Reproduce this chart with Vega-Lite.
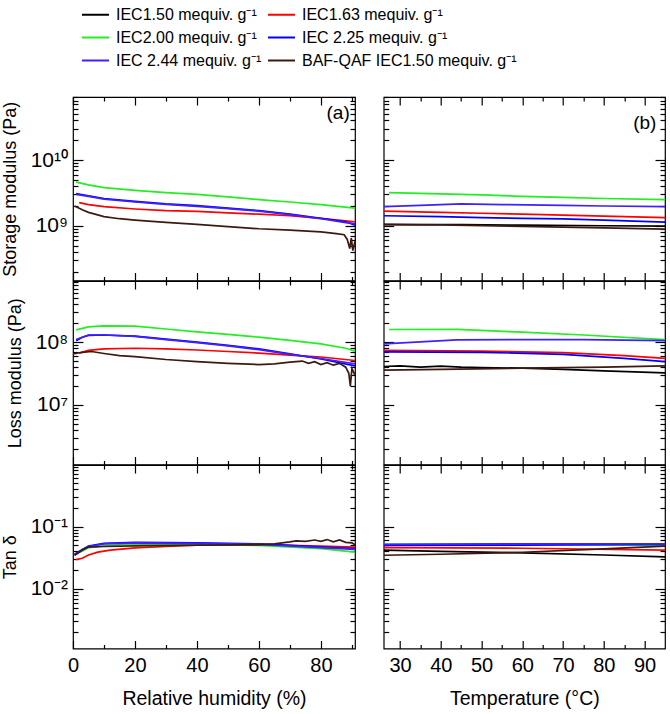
{
  "$schema": "https://vega.github.io/schema/vega-lite/v6.json",
  "padding": {"left": 0, "top": 0, "right": 2, "bottom": 2},
  "config": {
    "view": {"stroke": "black", "strokeWidth": 1.2},
    "font": "Liberation Sans",
    "axis": {"grid": false, "domain": false, "ticks": false, "gridColor": "black", "gridWidth": 1.2, "gridOpacity": 1, "labelColor": "black", "titleColor": "black", "labelFont": "Liberation Sans", "titleFont": "Liberation Sans", "titleFontWeight": "normal", "labelOverlap": false, "labelFlush": false}
  },
  "datasets": {
    "sRH": [
      {"sample": "IEC1.63 mequiv. g⁻¹", "x": 2, "value": 2.25e9}, {"sample": "IEC1.63 mequiv. g⁻¹", "x": 5, "value": 2.1e9}, {"sample": "IEC1.63 mequiv. g⁻¹", "x": 10, "value": 1.95e9}, {"sample": "IEC1.63 mequiv. g⁻¹", "x": 20, "value": 1.8e9}, {"sample": "IEC1.63 mequiv. g⁻¹", "x": 30, "value": 1.7e9}, {"sample": "IEC1.63 mequiv. g⁻¹", "x": 40, "value": 1.65e9}, {"sample": "IEC1.63 mequiv. g⁻¹", "x": 50, "value": 1.57e9}, {"sample": "IEC1.63 mequiv. g⁻¹", "x": 60, "value": 1.5e9}, {"sample": "IEC1.63 mequiv. g⁻¹", "x": 70, "value": 1.42e9}, {"sample": "IEC1.63 mequiv. g⁻¹", "x": 80, "value": 1.3e9}, {"sample": "IEC1.63 mequiv. g⁻¹", "x": 91, "value": 1.15e9},
      {"sample": "IEC2.00 mequiv. g⁻¹", "x": 1, "value": 4.6e9}, {"sample": "IEC2.00 mequiv. g⁻¹", "x": 5, "value": 4.2e9}, {"sample": "IEC2.00 mequiv. g⁻¹", "x": 10, "value": 3.8e9}, {"sample": "IEC2.00 mequiv. g⁻¹", "x": 20, "value": 3.45e9}, {"sample": "IEC2.00 mequiv. g⁻¹", "x": 30, "value": 3.2e9}, {"sample": "IEC2.00 mequiv. g⁻¹", "x": 40, "value": 3.0e9}, {"sample": "IEC2.00 mequiv. g⁻¹", "x": 50, "value": 2.75e9}, {"sample": "IEC2.00 mequiv. g⁻¹", "x": 60, "value": 2.5e9}, {"sample": "IEC2.00 mequiv. g⁻¹", "x": 70, "value": 2.3e9}, {"sample": "IEC2.00 mequiv. g⁻¹", "x": 80, "value": 2.1e9}, {"sample": "IEC2.00 mequiv. g⁻¹", "x": 91, "value": 1.85e9},
      {"sample": "IEC 2.25 mequiv. g⁻¹", "x": 1, "value": 3.1e9}, {"sample": "IEC 2.25 mequiv. g⁻¹", "x": 5, "value": 2.85e9}, {"sample": "IEC 2.25 mequiv. g⁻¹", "x": 10, "value": 2.6e9}, {"sample": "IEC 2.25 mequiv. g⁻¹", "x": 20, "value": 2.35e9}, {"sample": "IEC 2.25 mequiv. g⁻¹", "x": 30, "value": 2.15e9}, {"sample": "IEC 2.25 mequiv. g⁻¹", "x": 40, "value": 2.02e9}, {"sample": "IEC 2.25 mequiv. g⁻¹", "x": 50, "value": 1.85e9}, {"sample": "IEC 2.25 mequiv. g⁻¹", "x": 60, "value": 1.7e9}, {"sample": "IEC 2.25 mequiv. g⁻¹", "x": 70, "value": 1.5e9}, {"sample": "IEC 2.25 mequiv. g⁻¹", "x": 80, "value": 1.3e9}, {"sample": "IEC 2.25 mequiv. g⁻¹", "x": 88, "value": 1.15e9}, {"sample": "IEC 2.25 mequiv. g⁻¹", "x": 91, "value": 1.02e9},
      {"sample": "IEC 2.44 mequiv. g⁻¹", "x": 1, "value": 3.0e9}, {"sample": "IEC 2.44 mequiv. g⁻¹", "x": 5, "value": 2.8e9}, {"sample": "IEC 2.44 mequiv. g⁻¹", "x": 10, "value": 2.55e9}, {"sample": "IEC 2.44 mequiv. g⁻¹", "x": 20, "value": 2.3e9}, {"sample": "IEC 2.44 mequiv. g⁻¹", "x": 30, "value": 2.12e9}, {"sample": "IEC 2.44 mequiv. g⁻¹", "x": 40, "value": 1.97e9}, {"sample": "IEC 2.44 mequiv. g⁻¹", "x": 50, "value": 1.82e9}, {"sample": "IEC 2.44 mequiv. g⁻¹", "x": 60, "value": 1.67e9}, {"sample": "IEC 2.44 mequiv. g⁻¹", "x": 70, "value": 1.48e9}, {"sample": "IEC 2.44 mequiv. g⁻¹", "x": 80, "value": 1.28e9}, {"sample": "IEC 2.44 mequiv. g⁻¹", "x": 88, "value": 1.12e9}, {"sample": "IEC 2.44 mequiv. g⁻¹", "x": 91, "value": 1.08e9},
      {"sample": "BAF-QAF IEC1.50 mequiv. g⁻¹", "x": 0.5, "value": 2.0e9}, {"sample": "BAF-QAF IEC1.50 mequiv. g⁻¹", "x": 3, "value": 1.75e9}, {"sample": "BAF-QAF IEC1.50 mequiv. g⁻¹", "x": 5, "value": 1.6e9}, {"sample": "BAF-QAF IEC1.50 mequiv. g⁻¹", "x": 10, "value": 1.38e9}, {"sample": "BAF-QAF IEC1.50 mequiv. g⁻¹", "x": 15, "value": 1.28e9}, {"sample": "BAF-QAF IEC1.50 mequiv. g⁻¹", "x": 20, "value": 1.22e9}, {"sample": "BAF-QAF IEC1.50 mequiv. g⁻¹", "x": 30, "value": 1.13e9}, {"sample": "BAF-QAF IEC1.50 mequiv. g⁻¹", "x": 40, "value": 1.05e9}, {"sample": "BAF-QAF IEC1.50 mequiv. g⁻¹", "x": 50, "value": 0.97e9}, {"sample": "BAF-QAF IEC1.50 mequiv. g⁻¹", "x": 60, "value": 0.9e9}, {"sample": "BAF-QAF IEC1.50 mequiv. g⁻¹", "x": 70, "value": 0.86e9}, {"sample": "BAF-QAF IEC1.50 mequiv. g⁻¹", "x": 80, "value": 0.81e9}, {"sample": "BAF-QAF IEC1.50 mequiv. g⁻¹", "x": 85, "value": 0.76e9}, {"sample": "BAF-QAF IEC1.50 mequiv. g⁻¹", "x": 87.5, "value": 0.73e9}, {"sample": "BAF-QAF IEC1.50 mequiv. g⁻¹", "x": 88.5, "value": 0.62e9}, {"sample": "BAF-QAF IEC1.50 mequiv. g⁻¹", "x": 89.3, "value": 0.45e9}, {"sample": "BAF-QAF IEC1.50 mequiv. g⁻¹", "x": 89.8, "value": 0.65e9}, {"sample": "BAF-QAF IEC1.50 mequiv. g⁻¹", "x": 90.3, "value": 0.42e9}, {"sample": "BAF-QAF IEC1.50 mequiv. g⁻¹", "x": 91, "value": 0.58e9}
    ],
    "sT": [
      {"sample": "IEC1.50 mequiv. g⁻¹", "x": 26, "value": 1.05e9}, {"sample": "IEC1.50 mequiv. g⁻¹", "x": 35, "value": 1.04e9}, {"sample": "IEC1.50 mequiv. g⁻¹", "x": 45, "value": 1.045e9}, {"sample": "IEC1.50 mequiv. g⁻¹", "x": 60, "value": 1.02e9}, {"sample": "IEC1.50 mequiv. g⁻¹", "x": 80, "value": 1.0e9}, {"sample": "IEC1.50 mequiv. g⁻¹", "x": 95, "value": 0.99e9},
      {"sample": "IEC1.63 mequiv. g⁻¹", "x": 26, "value": 1.67e9}, {"sample": "IEC1.63 mequiv. g⁻¹", "x": 40, "value": 1.6e9}, {"sample": "IEC1.63 mequiv. g⁻¹", "x": 50, "value": 1.55e9}, {"sample": "IEC1.63 mequiv. g⁻¹", "x": 60, "value": 1.5e9}, {"sample": "IEC1.63 mequiv. g⁻¹", "x": 70, "value": 1.45e9}, {"sample": "IEC1.63 mequiv. g⁻¹", "x": 80, "value": 1.4e9}, {"sample": "IEC1.63 mequiv. g⁻¹", "x": 95, "value": 1.33e9},
      {"sample": "IEC2.00 mequiv. g⁻¹", "x": 27.3, "value": 3.2e9}, {"sample": "IEC2.00 mequiv. g⁻¹", "x": 40, "value": 3.05e9}, {"sample": "IEC2.00 mequiv. g⁻¹", "x": 50, "value": 2.95e9}, {"sample": "IEC2.00 mequiv. g⁻¹", "x": 60, "value": 2.8e9}, {"sample": "IEC2.00 mequiv. g⁻¹", "x": 70, "value": 2.7e9}, {"sample": "IEC2.00 mequiv. g⁻¹", "x": 80, "value": 2.6e9}, {"sample": "IEC2.00 mequiv. g⁻¹", "x": 95, "value": 2.5e9},
      {"sample": "IEC 2.25 mequiv. g⁻¹", "x": 26, "value": 1.42e9}, {"sample": "IEC 2.25 mequiv. g⁻¹", "x": 40, "value": 1.38e9}, {"sample": "IEC 2.25 mequiv. g⁻¹", "x": 50, "value": 1.33e9}, {"sample": "IEC 2.25 mequiv. g⁻¹", "x": 60, "value": 1.3e9}, {"sample": "IEC 2.25 mequiv. g⁻¹", "x": 70, "value": 1.27e9}, {"sample": "IEC 2.25 mequiv. g⁻¹", "x": 80, "value": 1.22e9}, {"sample": "IEC 2.25 mequiv. g⁻¹", "x": 95, "value": 1.14e9},
      {"sample": "IEC 2.44 mequiv. g⁻¹", "x": 26, "value": 1.95e9}, {"sample": "IEC 2.44 mequiv. g⁻¹", "x": 35, "value": 2.05e9}, {"sample": "IEC 2.44 mequiv. g⁻¹", "x": 45, "value": 2.15e9}, {"sample": "IEC 2.44 mequiv. g⁻¹", "x": 55, "value": 2.1e9}, {"sample": "IEC 2.44 mequiv. g⁻¹", "x": 70, "value": 2.05e9}, {"sample": "IEC 2.44 mequiv. g⁻¹", "x": 80, "value": 2.0e9}, {"sample": "IEC 2.44 mequiv. g⁻¹", "x": 95, "value": 1.95e9},
      {"sample": "BAF-QAF IEC1.50 mequiv. g⁻¹", "x": 26, "value": 1.04e9}, {"sample": "BAF-QAF IEC1.50 mequiv. g⁻¹", "x": 40, "value": 1.03e9}, {"sample": "BAF-QAF IEC1.50 mequiv. g⁻¹", "x": 60, "value": 0.98e9}, {"sample": "BAF-QAF IEC1.50 mequiv. g⁻¹", "x": 80, "value": 0.93e9}, {"sample": "BAF-QAF IEC1.50 mequiv. g⁻¹", "x": 95, "value": 0.89e9}
    ],
    "lRH": [
      {"sample": "IEC1.63 mequiv. g⁻¹", "x": 2, "value": 6.7e7}, {"sample": "IEC1.63 mequiv. g⁻¹", "x": 5, "value": 7.4e7}, {"sample": "IEC1.63 mequiv. g⁻¹", "x": 10, "value": 7.8e7}, {"sample": "IEC1.63 mequiv. g⁻¹", "x": 20, "value": 8.0e7}, {"sample": "IEC1.63 mequiv. g⁻¹", "x": 30, "value": 7.8e7}, {"sample": "IEC1.63 mequiv. g⁻¹", "x": 40, "value": 7.5e7}, {"sample": "IEC1.63 mequiv. g⁻¹", "x": 50, "value": 7.1e7}, {"sample": "IEC1.63 mequiv. g⁻¹", "x": 60, "value": 6.7e7}, {"sample": "IEC1.63 mequiv. g⁻¹", "x": 70, "value": 6.2e7}, {"sample": "IEC1.63 mequiv. g⁻¹", "x": 80, "value": 5.8e7}, {"sample": "IEC1.63 mequiv. g⁻¹", "x": 91, "value": 5.1e7},
      {"sample": "IEC2.00 mequiv. g⁻¹", "x": 1, "value": 1.57e8}, {"sample": "IEC2.00 mequiv. g⁻¹", "x": 5, "value": 1.75e8}, {"sample": "IEC2.00 mequiv. g⁻¹", "x": 10, "value": 1.82e8}, {"sample": "IEC2.00 mequiv. g⁻¹", "x": 20, "value": 1.8e8}, {"sample": "IEC2.00 mequiv. g⁻¹", "x": 30, "value": 1.62e8}, {"sample": "IEC2.00 mequiv. g⁻¹", "x": 40, "value": 1.46e8}, {"sample": "IEC2.00 mequiv. g⁻¹", "x": 50, "value": 1.33e8}, {"sample": "IEC2.00 mequiv. g⁻¹", "x": 60, "value": 1.2e8}, {"sample": "IEC2.00 mequiv. g⁻¹", "x": 70, "value": 1.07e8}, {"sample": "IEC2.00 mequiv. g⁻¹", "x": 80, "value": 9.4e7}, {"sample": "IEC2.00 mequiv. g⁻¹", "x": 88, "value": 8.0e7}, {"sample": "IEC2.00 mequiv. g⁻¹", "x": 91, "value": 7.2e7},
      {"sample": "IEC 2.25 mequiv. g⁻¹", "x": 1, "value": 1.05e8}, {"sample": "IEC 2.25 mequiv. g⁻¹", "x": 3, "value": 1.2e8}, {"sample": "IEC 2.25 mequiv. g⁻¹", "x": 5, "value": 1.28e8}, {"sample": "IEC 2.25 mequiv. g⁻¹", "x": 10, "value": 1.3e8}, {"sample": "IEC 2.25 mequiv. g⁻¹", "x": 20, "value": 1.25e8}, {"sample": "IEC 2.25 mequiv. g⁻¹", "x": 30, "value": 1.12e8}, {"sample": "IEC 2.25 mequiv. g⁻¹", "x": 40, "value": 1.0e8}, {"sample": "IEC 2.25 mequiv. g⁻¹", "x": 50, "value": 8.9e7}, {"sample": "IEC 2.25 mequiv. g⁻¹", "x": 60, "value": 7.8e7}, {"sample": "IEC 2.25 mequiv. g⁻¹", "x": 70, "value": 6.5e7}, {"sample": "IEC 2.25 mequiv. g⁻¹", "x": 80, "value": 5.4e7}, {"sample": "IEC 2.25 mequiv. g⁻¹", "x": 91, "value": 4.2e7},
      {"sample": "IEC 2.44 mequiv. g⁻¹", "x": 1, "value": 1.1e8}, {"sample": "IEC 2.44 mequiv. g⁻¹", "x": 5, "value": 1.3e8}, {"sample": "IEC 2.44 mequiv. g⁻¹", "x": 10, "value": 1.3e8}, {"sample": "IEC 2.44 mequiv. g⁻¹", "x": 20, "value": 1.24e8}, {"sample": "IEC 2.44 mequiv. g⁻¹", "x": 30, "value": 1.1e8}, {"sample": "IEC 2.44 mequiv. g⁻¹", "x": 40, "value": 9.8e7}, {"sample": "IEC 2.44 mequiv. g⁻¹", "x": 50, "value": 8.7e7}, {"sample": "IEC 2.44 mequiv. g⁻¹", "x": 60, "value": 7.6e7}, {"sample": "IEC 2.44 mequiv. g⁻¹", "x": 70, "value": 6.4e7}, {"sample": "IEC 2.44 mequiv. g⁻¹", "x": 80, "value": 5.5e7}, {"sample": "IEC 2.44 mequiv. g⁻¹", "x": 91, "value": 4.5e7},
      {"sample": "BAF-QAF IEC1.50 mequiv. g⁻¹", "x": 0, "value": 6.5e7}, {"sample": "BAF-QAF IEC1.50 mequiv. g⁻¹", "x": 3, "value": 6.9e7}, {"sample": "BAF-QAF IEC1.50 mequiv. g⁻¹", "x": 6, "value": 7.1e7}, {"sample": "BAF-QAF IEC1.50 mequiv. g⁻¹", "x": 10, "value": 6.6e7}, {"sample": "BAF-QAF IEC1.50 mequiv. g⁻¹", "x": 15, "value": 6.1e7}, {"sample": "BAF-QAF IEC1.50 mequiv. g⁻¹", "x": 20, "value": 5.9e7}, {"sample": "BAF-QAF IEC1.50 mequiv. g⁻¹", "x": 30, "value": 5.3e7}, {"sample": "BAF-QAF IEC1.50 mequiv. g⁻¹", "x": 40, "value": 4.9e7}, {"sample": "BAF-QAF IEC1.50 mequiv. g⁻¹", "x": 50, "value": 4.6e7}, {"sample": "BAF-QAF IEC1.50 mequiv. g⁻¹", "x": 60, "value": 4.4e7}, {"sample": "BAF-QAF IEC1.50 mequiv. g⁻¹", "x": 65, "value": 4.5e7}, {"sample": "BAF-QAF IEC1.50 mequiv. g⁻¹", "x": 70, "value": 4.8e7}, {"sample": "BAF-QAF IEC1.50 mequiv. g⁻¹", "x": 74, "value": 5.0e7}, {"sample": "BAF-QAF IEC1.50 mequiv. g⁻¹", "x": 76, "value": 4.6e7}, {"sample": "BAF-QAF IEC1.50 mequiv. g⁻¹", "x": 78, "value": 4.9e7}, {"sample": "BAF-QAF IEC1.50 mequiv. g⁻¹", "x": 80, "value": 4.4e7}, {"sample": "BAF-QAF IEC1.50 mequiv. g⁻¹", "x": 82, "value": 4.7e7}, {"sample": "BAF-QAF IEC1.50 mequiv. g⁻¹", "x": 84, "value": 4.3e7}, {"sample": "BAF-QAF IEC1.50 mequiv. g⁻¹", "x": 86, "value": 4.6e7}, {"sample": "BAF-QAF IEC1.50 mequiv. g⁻¹", "x": 88, "value": 4.0e7}, {"sample": "BAF-QAF IEC1.50 mequiv. g⁻¹", "x": 89, "value": 3.2e7}, {"sample": "BAF-QAF IEC1.50 mequiv. g⁻¹", "x": 89.5, "value": 2.0e7}, {"sample": "BAF-QAF IEC1.50 mequiv. g⁻¹", "x": 90, "value": 3.8e7}, {"sample": "BAF-QAF IEC1.50 mequiv. g⁻¹", "x": 91, "value": 3.0e7}
    ],
    "lT": [
      {"sample": "IEC1.50 mequiv. g⁻¹", "x": 26, "value": 4.1e7}, {"sample": "IEC1.50 mequiv. g⁻¹", "x": 30, "value": 4.2e7}, {"sample": "IEC1.50 mequiv. g⁻¹", "x": 35, "value": 4.0e7}, {"sample": "IEC1.50 mequiv. g⁻¹", "x": 40, "value": 4.15e7}, {"sample": "IEC1.50 mequiv. g⁻¹", "x": 45, "value": 4.0e7}, {"sample": "IEC1.50 mequiv. g⁻¹", "x": 50, "value": 3.95e7}, {"sample": "IEC1.50 mequiv. g⁻¹", "x": 60, "value": 3.85e7}, {"sample": "IEC1.50 mequiv. g⁻¹", "x": 70, "value": 3.7e7}, {"sample": "IEC1.50 mequiv. g⁻¹", "x": 80, "value": 3.5e7}, {"sample": "IEC1.50 mequiv. g⁻¹", "x": 95, "value": 3.24e7},
      {"sample": "IEC1.63 mequiv. g⁻¹", "x": 26, "value": 7.4e7}, {"sample": "IEC1.63 mequiv. g⁻¹", "x": 50, "value": 7.2e7}, {"sample": "IEC1.63 mequiv. g⁻¹", "x": 70, "value": 6.8e7}, {"sample": "IEC1.63 mequiv. g⁻¹", "x": 85, "value": 6.1e7}, {"sample": "IEC1.63 mequiv. g⁻¹", "x": 95, "value": 5.5e7},
      {"sample": "IEC2.00 mequiv. g⁻¹", "x": 27.3, "value": 1.59e8}, {"sample": "IEC2.00 mequiv. g⁻¹", "x": 44, "value": 1.6e8}, {"sample": "IEC2.00 mequiv. g⁻¹", "x": 60, "value": 1.44e8}, {"sample": "IEC2.00 mequiv. g⁻¹", "x": 75, "value": 1.3e8}, {"sample": "IEC2.00 mequiv. g⁻¹", "x": 95, "value": 1.1e8},
      {"sample": "IEC 2.25 mequiv. g⁻¹", "x": 26, "value": 7.0e7}, {"sample": "IEC 2.25 mequiv. g⁻¹", "x": 50, "value": 6.9e7}, {"sample": "IEC 2.25 mequiv. g⁻¹", "x": 70, "value": 6.4e7}, {"sample": "IEC 2.25 mequiv. g⁻¹", "x": 85, "value": 5.5e7}, {"sample": "IEC 2.25 mequiv. g⁻¹", "x": 95, "value": 4.9e7},
      {"sample": "IEC 2.44 mequiv. g⁻¹", "x": 26, "value": 9.4e7}, {"sample": "IEC 2.44 mequiv. g⁻¹", "x": 44, "value": 1.09e8}, {"sample": "IEC 2.44 mequiv. g⁻¹", "x": 60, "value": 1.1e8}, {"sample": "IEC 2.44 mequiv. g⁻¹", "x": 75, "value": 1.1e8}, {"sample": "IEC 2.44 mequiv. g⁻¹", "x": 95, "value": 1.06e8},
      {"sample": "BAF-QAF IEC1.50 mequiv. g⁻¹", "x": 26, "value": 3.6e7}, {"sample": "BAF-QAF IEC1.50 mequiv. g⁻¹", "x": 40, "value": 3.7e7}, {"sample": "BAF-QAF IEC1.50 mequiv. g⁻¹", "x": 60, "value": 3.85e7}, {"sample": "BAF-QAF IEC1.50 mequiv. g⁻¹", "x": 80, "value": 4.0e7}, {"sample": "BAF-QAF IEC1.50 mequiv. g⁻¹", "x": 95, "value": 4.2e7}
    ],
    "tRH": [
      {"sample": "IEC1.63 mequiv. g⁻¹", "x": 1, "value": 0.0295}, {"sample": "IEC1.63 mequiv. g⁻¹", "x": 3, "value": 0.031}, {"sample": "IEC1.63 mequiv. g⁻¹", "x": 5, "value": 0.035}, {"sample": "IEC1.63 mequiv. g⁻¹", "x": 8, "value": 0.039}, {"sample": "IEC1.63 mequiv. g⁻¹", "x": 12, "value": 0.042}, {"sample": "IEC1.63 mequiv. g⁻¹", "x": 20, "value": 0.0457}, {"sample": "IEC1.63 mequiv. g⁻¹", "x": 30, "value": 0.048}, {"sample": "IEC1.63 mequiv. g⁻¹", "x": 40, "value": 0.0505}, {"sample": "IEC1.63 mequiv. g⁻¹", "x": 50, "value": 0.051}, {"sample": "IEC1.63 mequiv. g⁻¹", "x": 60, "value": 0.052}, {"sample": "IEC1.63 mequiv. g⁻¹", "x": 70, "value": 0.05}, {"sample": "IEC1.63 mequiv. g⁻¹", "x": 80, "value": 0.0486}, {"sample": "IEC1.63 mequiv. g⁻¹", "x": 91, "value": 0.047},
      {"sample": "IEC2.00 mequiv. g⁻¹", "x": 0.5, "value": 0.035}, {"sample": "IEC2.00 mequiv. g⁻¹", "x": 5, "value": 0.046}, {"sample": "IEC2.00 mequiv. g⁻¹", "x": 10, "value": 0.049}, {"sample": "IEC2.00 mequiv. g⁻¹", "x": 17, "value": 0.052}, {"sample": "IEC2.00 mequiv. g⁻¹", "x": 40, "value": 0.052}, {"sample": "IEC2.00 mequiv. g⁻¹", "x": 60, "value": 0.05}, {"sample": "IEC2.00 mequiv. g⁻¹", "x": 80, "value": 0.0445}, {"sample": "IEC2.00 mequiv. g⁻¹", "x": 91, "value": 0.039},
      {"sample": "IEC 2.25 mequiv. g⁻¹", "x": 0.5, "value": 0.036}, {"sample": "IEC 2.25 mequiv. g⁻¹", "x": 3, "value": 0.043}, {"sample": "IEC 2.25 mequiv. g⁻¹", "x": 5, "value": 0.0486}, {"sample": "IEC 2.25 mequiv. g⁻¹", "x": 10, "value": 0.0537}, {"sample": "IEC 2.25 mequiv. g⁻¹", "x": 20, "value": 0.0557}, {"sample": "IEC 2.25 mequiv. g⁻¹", "x": 40, "value": 0.055}, {"sample": "IEC 2.25 mequiv. g⁻¹", "x": 60, "value": 0.053}, {"sample": "IEC 2.25 mequiv. g⁻¹", "x": 70, "value": 0.05}, {"sample": "IEC 2.25 mequiv. g⁻¹", "x": 80, "value": 0.047}, {"sample": "IEC 2.25 mequiv. g⁻¹", "x": 91, "value": 0.0445},
      {"sample": "IEC 2.44 mequiv. g⁻¹", "x": 0.5, "value": 0.035}, {"sample": "IEC 2.44 mequiv. g⁻¹", "x": 3, "value": 0.042}, {"sample": "IEC 2.44 mequiv. g⁻¹", "x": 5, "value": 0.048}, {"sample": "IEC 2.44 mequiv. g⁻¹", "x": 10, "value": 0.053}, {"sample": "IEC 2.44 mequiv. g⁻¹", "x": 20, "value": 0.055}, {"sample": "IEC 2.44 mequiv. g⁻¹", "x": 40, "value": 0.054}, {"sample": "IEC 2.44 mequiv. g⁻¹", "x": 60, "value": 0.052}, {"sample": "IEC 2.44 mequiv. g⁻¹", "x": 80, "value": 0.046}, {"sample": "IEC 2.44 mequiv. g⁻¹", "x": 91, "value": 0.043},
      {"sample": "BAF-QAF IEC1.50 mequiv. g⁻¹", "x": 0.5, "value": 0.0347}, {"sample": "BAF-QAF IEC1.50 mequiv. g⁻¹", "x": 3, "value": 0.042}, {"sample": "BAF-QAF IEC1.50 mequiv. g⁻¹", "x": 5, "value": 0.047}, {"sample": "BAF-QAF IEC1.50 mequiv. g⁻¹", "x": 10, "value": 0.048}, {"sample": "BAF-QAF IEC1.50 mequiv. g⁻¹", "x": 20, "value": 0.049}, {"sample": "BAF-QAF IEC1.50 mequiv. g⁻¹", "x": 40, "value": 0.0505}, {"sample": "BAF-QAF IEC1.50 mequiv. g⁻¹", "x": 60, "value": 0.051}, {"sample": "BAF-QAF IEC1.50 mequiv. g⁻¹", "x": 65, "value": 0.053}, {"sample": "BAF-QAF IEC1.50 mequiv. g⁻¹", "x": 70, "value": 0.057}, {"sample": "BAF-QAF IEC1.50 mequiv. g⁻¹", "x": 72, "value": 0.059}, {"sample": "BAF-QAF IEC1.50 mequiv. g⁻¹", "x": 75, "value": 0.058}, {"sample": "BAF-QAF IEC1.50 mequiv. g⁻¹", "x": 78, "value": 0.061}, {"sample": "BAF-QAF IEC1.50 mequiv. g⁻¹", "x": 80, "value": 0.058}, {"sample": "BAF-QAF IEC1.50 mequiv. g⁻¹", "x": 82, "value": 0.062}, {"sample": "BAF-QAF IEC1.50 mequiv. g⁻¹", "x": 84, "value": 0.057}, {"sample": "BAF-QAF IEC1.50 mequiv. g⁻¹", "x": 86, "value": 0.061}, {"sample": "BAF-QAF IEC1.50 mequiv. g⁻¹", "x": 88, "value": 0.056}, {"sample": "BAF-QAF IEC1.50 mequiv. g⁻¹", "x": 90, "value": 0.055}, {"sample": "BAF-QAF IEC1.50 mequiv. g⁻¹", "x": 91, "value": 0.051}
    ],
    "tT": [
      {"sample": "IEC1.50 mequiv. g⁻¹", "x": 26, "value": 0.042}, {"sample": "IEC1.50 mequiv. g⁻¹", "x": 40, "value": 0.040}, {"sample": "IEC1.50 mequiv. g⁻¹", "x": 60, "value": 0.038}, {"sample": "IEC1.50 mequiv. g⁻¹", "x": 80, "value": 0.035}, {"sample": "IEC1.50 mequiv. g⁻¹", "x": 95, "value": 0.0327},
      {"sample": "IEC1.63 mequiv. g⁻¹", "x": 26, "value": 0.046}, {"sample": "IEC1.63 mequiv. g⁻¹", "x": 60, "value": 0.045}, {"sample": "IEC1.63 mequiv. g⁻¹", "x": 95, "value": 0.042},
      {"sample": "IEC2.00 mequiv. g⁻¹", "x": 26, "value": 0.052}, {"sample": "IEC2.00 mequiv. g⁻¹", "x": 60, "value": 0.053}, {"sample": "IEC2.00 mequiv. g⁻¹", "x": 95, "value": 0.05},
      {"sample": "IEC 2.25 mequiv. g⁻¹", "x": 26, "value": 0.05}, {"sample": "IEC 2.25 mequiv. g⁻¹", "x": 60, "value": 0.0505}, {"sample": "IEC 2.25 mequiv. g⁻¹", "x": 95, "value": 0.052},
      {"sample": "IEC 2.44 mequiv. g⁻¹", "x": 26, "value": 0.052}, {"sample": "IEC 2.44 mequiv. g⁻¹", "x": 60, "value": 0.053}, {"sample": "IEC 2.44 mequiv. g⁻¹", "x": 95, "value": 0.053},
      {"sample": "BAF-QAF IEC1.50 mequiv. g⁻¹", "x": 26, "value": 0.0347}, {"sample": "BAF-QAF IEC1.50 mequiv. g⁻¹", "x": 40, "value": 0.036}, {"sample": "BAF-QAF IEC1.50 mequiv. g⁻¹", "x": 60, "value": 0.0388}, {"sample": "BAF-QAF IEC1.50 mequiv. g⁻¹", "x": 80, "value": 0.044}, {"sample": "BAF-QAF IEC1.50 mequiv. g⁻¹", "x": 95, "value": 0.0486}
    ]
  },
  "columns": 2,
  "bounds": "flush",
  "spacing": {"row": 0, "column": 28.7},
  "concat": [
    {
      "width": 282, "height": 183.5,
      "data": {"name": "sRH"},
      "resolve": {"axis": {"x": "independent", "y": "independent"}},
      "layer": [
        {"mark": {"type": "line", "strokeWidth": 1.7, "clip": true},
         "encoding": {
           "x": {"field": "x", "type": "quantitative", "scale": {"domain": [0, 91], "nice": false, "zero": false}, "axis": {"orient": "bottom", "labels": false, "title": null}},
           "y": {"field": "value", "type": "quantitative", "scale": {"type": "log", "domain": [1.47e8, 9.1e10], "nice": false}, "axis": {"orient": "left", "values": [1e9, 1e10], "labelExpr": "datum.value == 1e10 ? '10¹⁰' : '10⁹'", "labelPadding": 5.5, "labelFontSize": 21, "title": "Storage modulus (Pa)", "titleFontSize": 18, "titlePadding": 11}},
           "color": {"field": "sample", "type": "nominal", "scale": {"domain": ["IEC1.50 mequiv. g⁻¹", "IEC1.63 mequiv. g⁻¹", "IEC2.00 mequiv. g⁻¹", "IEC 2.25 mequiv. g⁻¹", "IEC 2.44 mequiv. g⁻¹", "BAF-QAF IEC1.50 mequiv. g⁻¹"], "range": ["#000000", "#ff0000", "#22ee22", "#0000ff", "#4020ff", "#3d1a0f"]},
             "legend": {"orient": "none", "legendX": 8, "legendY": -97, "columns": 2, "direction": "horizontal", "title": null, "symbolType": "stroke", "symbolSize": 729, "symbolStrokeWidth": 2, "labelFontSize": 16, "labelColor": "black", "labelLimit": 400, "labelOffset": 6, "columnPadding": 2, "rowPadding": -8, "padding": 0}}
         }},
        {"mark": {"type": "point", "opacity": 0},
         "encoding": {
           "x": {"field": "x", "type": "quantitative", "scale": {"domain": [0, 91], "nice": false, "zero": false}, "axis": {"orient": "bottom", "values": [0, 20, 40, 60, 80], "grid": true, "gridDash": [8, 1000], "labels": false, "title": null}},
           "y": {"field": "value", "type": "quantitative", "scale": {"type": "log", "domain": [1.47e8, 9.1e10], "nice": false}, "axis": {"orient": "left", "values": [1e9, 1e10], "grid": true, "gridDash": [10, 1000], "labels": false, "title": null}}
         }},
        {"mark": {"type": "point", "opacity": 0},
         "encoding": {
           "x": {"field": "x", "type": "quantitative", "scale": {"domain": [0, 91], "nice": false, "zero": false}, "axis": {"orient": "bottom", "values": [10, 30, 50, 70, 90], "grid": true, "gridDash": [4, 1000], "labels": false, "title": null}},
           "y": {"field": "value", "type": "quantitative", "scale": {"type": "log", "domain": [1.47e8, 9.1e10], "nice": false}, "axis": {"orient": "left", "values": [2e8, 3e8, 4e8, 5e8, 6e8, 7e8, 8e8, 9e8, 2e9, 3e9, 4e9, 5e9, 6e9, 7e9, 8e9, 9e9, 2e10, 3e10, 4e10, 5e10, 6e10, 7e10, 8e10, 9e10], "grid": true, "gridDash": [5, 1000], "labels": false, "title": null}}
         }},
        {"mark": {"type": "point", "opacity": 0},
         "encoding": {
           "x": {"field": "x", "type": "quantitative", "scale": {"domain": [0, 91], "nice": false, "zero": false}, "axis": {"orient": "top", "values": [0, 20, 40, 60, 80], "grid": true, "gridDash": [8, 1000], "labels": false, "title": null}},
           "y": {"field": "value", "type": "quantitative", "scale": {"type": "log", "domain": [1.47e8, 9.1e10], "nice": false}, "axis": {"orient": "right", "values": [1e9, 1e10], "grid": true, "gridDash": [10, 1000], "labels": false, "title": null}}
         }},
        {"mark": {"type": "point", "opacity": 0},
         "encoding": {
           "x": {"field": "x", "type": "quantitative", "scale": {"domain": [0, 91], "nice": false, "zero": false}, "axis": {"orient": "top", "values": [10, 30, 50, 70, 90], "grid": true, "gridDash": [4, 1000], "labels": false, "title": null}},
           "y": {"field": "value", "type": "quantitative", "scale": {"type": "log", "domain": [1.47e8, 9.1e10], "nice": false}, "axis": {"orient": "right", "values": [2e8, 3e8, 4e8, 5e8, 6e8, 7e8, 8e8, 9e8, 2e9, 3e9, 4e9, 5e9, 6e9, 7e9, 8e9, 9e9, 2e10, 3e10, 4e10, 5e10, 6e10, 7e10, 8e10, 9e10], "grid": true, "gridDash": [5, 1000], "labels": false, "title": null}}
         }},
        {"data": {"values": [{"x": 89.3, "value": 5.25e10, "label": "(a)"}]},
         "mark": {"type": "text", "align": "right", "baseline": "middle", "fontSize": 19, "font": "Liberation Sans", "color": "black"},
         "encoding": {
           "x": {"field": "x", "type": "quantitative", "scale": {"domain": [0, 91], "nice": false, "zero": false}, "axis": null},
           "y": {"field": "value", "type": "quantitative", "scale": {"type": "log", "domain": [1.47e8, 9.1e10], "nice": false}, "axis": null},
           "text": {"field": "label"}
         }}
      ]
    },
    {
      "width": 281.3, "height": 183.5,
      "data": {"name": "sT"},
      "resolve": {"axis": {"x": "independent", "y": "independent"}},
      "layer": [
        {"mark": {"type": "line", "strokeWidth": 1.7, "clip": true},
         "encoding": {
           "x": {"field": "x", "type": "quantitative", "scale": {"domain": [26, 95], "nice": false, "zero": false}, "axis": {"orient": "bottom", "labels": false, "title": null}},
           "y": {"field": "value", "type": "quantitative", "scale": {"type": "log", "domain": [1.47e8, 9.1e10], "nice": false}, "axis": {"orient": "left", "labels": false, "title": null}},
           "color": {"field": "sample", "type": "nominal", "scale": {"domain": ["IEC1.50 mequiv. g⁻¹", "IEC1.63 mequiv. g⁻¹", "IEC2.00 mequiv. g⁻¹", "IEC 2.25 mequiv. g⁻¹", "IEC 2.44 mequiv. g⁻¹", "BAF-QAF IEC1.50 mequiv. g⁻¹"], "range": ["#000000", "#ff0000", "#22ee22", "#0000ff", "#4020ff", "#3d1a0f"]},
             "legend": {"orient": "none", "legendX": 8, "legendY": -97, "columns": 2, "direction": "horizontal", "title": null, "symbolType": "stroke", "symbolSize": 729, "symbolStrokeWidth": 2, "labelFontSize": 16, "labelColor": "black", "labelLimit": 400, "labelOffset": 6, "columnPadding": 2, "rowPadding": -8, "padding": 0}}
         }},
        {"mark": {"type": "point", "opacity": 0},
         "encoding": {
           "x": {"field": "x", "type": "quantitative", "scale": {"domain": [26, 95], "nice": false, "zero": false}, "axis": {"orient": "bottom", "values": [30, 40, 50, 60, 70, 80, 90], "grid": true, "gridDash": [8, 1000], "labels": false, "title": null}},
           "y": {"field": "value", "type": "quantitative", "scale": {"type": "log", "domain": [1.47e8, 9.1e10], "nice": false}, "axis": {"orient": "left", "values": [1e9, 1e10], "grid": true, "gridDash": [10, 1000], "labels": false, "title": null}}
         }},
        {"mark": {"type": "point", "opacity": 0},
         "encoding": {
           "x": {"field": "x", "type": "quantitative", "scale": {"domain": [26, 95], "nice": false, "zero": false}, "axis": {"orient": "bottom", "values": [35, 45, 55, 65, 75, 85], "grid": true, "gridDash": [4, 1000], "labels": false, "title": null}},
           "y": {"field": "value", "type": "quantitative", "scale": {"type": "log", "domain": [1.47e8, 9.1e10], "nice": false}, "axis": {"orient": "left", "values": [2e8, 3e8, 4e8, 5e8, 6e8, 7e8, 8e8, 9e8, 2e9, 3e9, 4e9, 5e9, 6e9, 7e9, 8e9, 9e9, 2e10, 3e10, 4e10, 5e10, 6e10, 7e10, 8e10, 9e10], "grid": true, "gridDash": [5, 1000], "labels": false, "title": null}}
         }},
        {"mark": {"type": "point", "opacity": 0},
         "encoding": {
           "x": {"field": "x", "type": "quantitative", "scale": {"domain": [26, 95], "nice": false, "zero": false}, "axis": {"orient": "top", "values": [30, 40, 50, 60, 70, 80, 90], "grid": true, "gridDash": [8, 1000], "labels": false, "title": null}},
           "y": {"field": "value", "type": "quantitative", "scale": {"type": "log", "domain": [1.47e8, 9.1e10], "nice": false}, "axis": {"orient": "right", "values": [1e9, 1e10], "grid": true, "gridDash": [10, 1000], "labels": false, "title": null}}
         }},
        {"mark": {"type": "point", "opacity": 0},
         "encoding": {
           "x": {"field": "x", "type": "quantitative", "scale": {"domain": [26, 95], "nice": false, "zero": false}, "axis": {"orient": "top", "values": [35, 45, 55, 65, 75, 85], "grid": true, "gridDash": [4, 1000], "labels": false, "title": null}},
           "y": {"field": "value", "type": "quantitative", "scale": {"type": "log", "domain": [1.47e8, 9.1e10], "nice": false}, "axis": {"orient": "right", "values": [2e8, 3e8, 4e8, 5e8, 6e8, 7e8, 8e8, 9e8, 2e9, 3e9, 4e9, 5e9, 6e9, 7e9, 8e9, 9e9, 2e10, 3e10, 4e10, 5e10, 6e10, 7e10, 8e10, 9e10], "grid": true, "gridDash": [5, 1000], "labels": false, "title": null}}
         }},
        {"data": {"values": [{"x": 92.9, "value": 3.7e10, "label": "(b)"}]},
         "mark": {"type": "text", "align": "right", "baseline": "middle", "fontSize": 19, "font": "Liberation Sans", "color": "black"},
         "encoding": {
           "x": {"field": "x", "type": "quantitative", "scale": {"domain": [26, 95], "nice": false, "zero": false}, "axis": null},
           "y": {"field": "value", "type": "quantitative", "scale": {"type": "log", "domain": [1.47e8, 9.1e10], "nice": false}, "axis": null},
           "text": {"field": "label"}
         }}
      ]
    },
    {
      "width": 282, "height": 183.5,
      "data": {"name": "lRH"},
      "resolve": {"axis": {"x": "independent", "y": "independent"}},
      "layer": [
        {"mark": {"type": "line", "strokeWidth": 1.7, "clip": true},
         "encoding": {
           "x": {"field": "x", "type": "quantitative", "scale": {"domain": [0, 91], "nice": false, "zero": false}, "axis": {"orient": "bottom", "labels": false, "title": null}},
           "y": {"field": "value", "type": "quantitative", "scale": {"type": "log", "domain": [1.13e6, 9.4e8], "nice": false}, "axis": {"orient": "left", "values": [1e7, 1e8], "labelExpr": "datum.value == 1e8 ? '10⁸' : '10⁷'", "labelPadding": 5.5, "labelFontSize": 21, "title": "Loss modulus (Pa)", "titleFontSize": 18, "titlePadding": 11}},
           "color": {"field": "sample", "type": "nominal", "scale": {"domain": ["IEC1.50 mequiv. g⁻¹", "IEC1.63 mequiv. g⁻¹", "IEC2.00 mequiv. g⁻¹", "IEC 2.25 mequiv. g⁻¹", "IEC 2.44 mequiv. g⁻¹", "BAF-QAF IEC1.50 mequiv. g⁻¹"], "range": ["#000000", "#ff0000", "#22ee22", "#0000ff", "#4020ff", "#3d1a0f"]},
             "legend": {"orient": "none", "legendX": 8, "legendY": -97, "columns": 2, "direction": "horizontal", "title": null, "symbolType": "stroke", "symbolSize": 729, "symbolStrokeWidth": 2, "labelFontSize": 16, "labelColor": "black", "labelLimit": 400, "labelOffset": 6, "columnPadding": 2, "rowPadding": -8, "padding": 0}}
         }},
        {"mark": {"type": "point", "opacity": 0},
         "encoding": {
           "x": {"field": "x", "type": "quantitative", "scale": {"domain": [0, 91], "nice": false, "zero": false}, "axis": {"orient": "bottom", "values": [0, 20, 40, 60, 80], "grid": true, "gridDash": [8, 1000], "labels": false, "title": null}},
           "y": {"field": "value", "type": "quantitative", "scale": {"type": "log", "domain": [1.13e6, 9.4e8], "nice": false}, "axis": {"orient": "left", "values": [1e7, 1e8], "grid": true, "gridDash": [10, 1000], "labels": false, "title": null}}
         }},
        {"mark": {"type": "point", "opacity": 0},
         "encoding": {
           "x": {"field": "x", "type": "quantitative", "scale": {"domain": [0, 91], "nice": false, "zero": false}, "axis": {"orient": "bottom", "values": [10, 30, 50, 70, 90], "grid": true, "gridDash": [4, 1000], "labels": false, "title": null}},
           "y": {"field": "value", "type": "quantitative", "scale": {"type": "log", "domain": [1.13e6, 9.4e8], "nice": false}, "axis": {"orient": "left", "values": [2e6, 3e6, 4e6, 5e6, 6e6, 7e6, 8e6, 9e6, 2e7, 3e7, 4e7, 5e7, 6e7, 7e7, 8e7, 9e7, 2e8, 3e8, 4e8, 5e8, 6e8, 7e8, 8e8, 9e8], "grid": true, "gridDash": [5, 1000], "labels": false, "title": null}}
         }},
        {"mark": {"type": "point", "opacity": 0},
         "encoding": {
           "x": {"field": "x", "type": "quantitative", "scale": {"domain": [0, 91], "nice": false, "zero": false}, "axis": {"orient": "top", "values": [0, 20, 40, 60, 80], "grid": true, "gridDash": [8, 1000], "labels": false, "title": null}},
           "y": {"field": "value", "type": "quantitative", "scale": {"type": "log", "domain": [1.13e6, 9.4e8], "nice": false}, "axis": {"orient": "right", "values": [1e7, 1e8], "grid": true, "gridDash": [10, 1000], "labels": false, "title": null}}
         }},
        {"mark": {"type": "point", "opacity": 0},
         "encoding": {
           "x": {"field": "x", "type": "quantitative", "scale": {"domain": [0, 91], "nice": false, "zero": false}, "axis": {"orient": "top", "values": [10, 30, 50, 70, 90], "grid": true, "gridDash": [4, 1000], "labels": false, "title": null}},
           "y": {"field": "value", "type": "quantitative", "scale": {"type": "log", "domain": [1.13e6, 9.4e8], "nice": false}, "axis": {"orient": "right", "values": [2e6, 3e6, 4e6, 5e6, 6e6, 7e6, 8e6, 9e6, 2e7, 3e7, 4e7, 5e7, 6e7, 7e7, 8e7, 9e7, 2e8, 3e8, 4e8, 5e8, 6e8, 7e8, 8e8, 9e8], "grid": true, "gridDash": [5, 1000], "labels": false, "title": null}}
         }}
      ]
    },
    {
      "width": 281.3, "height": 183.5,
      "data": {"name": "lT"},
      "resolve": {"axis": {"x": "independent", "y": "independent"}},
      "layer": [
        {"mark": {"type": "line", "strokeWidth": 1.7, "clip": true},
         "encoding": {
           "x": {"field": "x", "type": "quantitative", "scale": {"domain": [26, 95], "nice": false, "zero": false}, "axis": {"orient": "bottom", "labels": false, "title": null}},
           "y": {"field": "value", "type": "quantitative", "scale": {"type": "log", "domain": [1.13e6, 9.4e8], "nice": false}, "axis": {"orient": "left", "labels": false, "title": null}},
           "color": {"field": "sample", "type": "nominal", "scale": {"domain": ["IEC1.50 mequiv. g⁻¹", "IEC1.63 mequiv. g⁻¹", "IEC2.00 mequiv. g⁻¹", "IEC 2.25 mequiv. g⁻¹", "IEC 2.44 mequiv. g⁻¹", "BAF-QAF IEC1.50 mequiv. g⁻¹"], "range": ["#000000", "#ff0000", "#22ee22", "#0000ff", "#4020ff", "#3d1a0f"]},
             "legend": {"orient": "none", "legendX": 8, "legendY": -97, "columns": 2, "direction": "horizontal", "title": null, "symbolType": "stroke", "symbolSize": 729, "symbolStrokeWidth": 2, "labelFontSize": 16, "labelColor": "black", "labelLimit": 400, "labelOffset": 6, "columnPadding": 2, "rowPadding": -8, "padding": 0}}
         }},
        {"mark": {"type": "point", "opacity": 0},
         "encoding": {
           "x": {"field": "x", "type": "quantitative", "scale": {"domain": [26, 95], "nice": false, "zero": false}, "axis": {"orient": "bottom", "values": [30, 40, 50, 60, 70, 80, 90], "grid": true, "gridDash": [8, 1000], "labels": false, "title": null}},
           "y": {"field": "value", "type": "quantitative", "scale": {"type": "log", "domain": [1.13e6, 9.4e8], "nice": false}, "axis": {"orient": "left", "values": [1e7, 1e8], "grid": true, "gridDash": [10, 1000], "labels": false, "title": null}}
         }},
        {"mark": {"type": "point", "opacity": 0},
         "encoding": {
           "x": {"field": "x", "type": "quantitative", "scale": {"domain": [26, 95], "nice": false, "zero": false}, "axis": {"orient": "bottom", "values": [35, 45, 55, 65, 75, 85], "grid": true, "gridDash": [4, 1000], "labels": false, "title": null}},
           "y": {"field": "value", "type": "quantitative", "scale": {"type": "log", "domain": [1.13e6, 9.4e8], "nice": false}, "axis": {"orient": "left", "values": [2e6, 3e6, 4e6, 5e6, 6e6, 7e6, 8e6, 9e6, 2e7, 3e7, 4e7, 5e7, 6e7, 7e7, 8e7, 9e7, 2e8, 3e8, 4e8, 5e8, 6e8, 7e8, 8e8, 9e8], "grid": true, "gridDash": [5, 1000], "labels": false, "title": null}}
         }},
        {"mark": {"type": "point", "opacity": 0},
         "encoding": {
           "x": {"field": "x", "type": "quantitative", "scale": {"domain": [26, 95], "nice": false, "zero": false}, "axis": {"orient": "top", "values": [30, 40, 50, 60, 70, 80, 90], "grid": true, "gridDash": [8, 1000], "labels": false, "title": null}},
           "y": {"field": "value", "type": "quantitative", "scale": {"type": "log", "domain": [1.13e6, 9.4e8], "nice": false}, "axis": {"orient": "right", "values": [1e7, 1e8], "grid": true, "gridDash": [10, 1000], "labels": false, "title": null}}
         }},
        {"mark": {"type": "point", "opacity": 0},
         "encoding": {
           "x": {"field": "x", "type": "quantitative", "scale": {"domain": [26, 95], "nice": false, "zero": false}, "axis": {"orient": "top", "values": [35, 45, 55, 65, 75, 85], "grid": true, "gridDash": [4, 1000], "labels": false, "title": null}},
           "y": {"field": "value", "type": "quantitative", "scale": {"type": "log", "domain": [1.13e6, 9.4e8], "nice": false}, "axis": {"orient": "right", "values": [2e6, 3e6, 4e6, 5e6, 6e6, 7e6, 8e6, 9e6, 2e7, 3e7, 4e7, 5e7, 6e7, 7e7, 8e7, 9e7, 2e8, 3e8, 4e8, 5e8, 6e8, 7e8, 8e8, 9e8], "grid": true, "gridDash": [5, 1000], "labels": false, "title": null}}
         }}
      ]
    },
    {
      "width": 282, "height": 183.5,
      "data": {"name": "tRH"},
      "resolve": {"axis": {"x": "independent", "y": "independent"}},
      "layer": [
        {"mark": {"type": "line", "strokeWidth": 1.7, "clip": true},
         "encoding": {
           "x": {"field": "x", "type": "quantitative", "scale": {"domain": [0, 91], "nice": false, "zero": false}, "axis": {"orient": "bottom", "values": [0, 20, 40, 60, 80], "labelPadding": 7, "labelFontSize": 20, "title": "Relative humidity (%)", "titleFontSize": 19.5, "titlePadding": 14}},
           "y": {"field": "value", "type": "quantitative", "scale": {"type": "log", "domain": [0.0011, 0.98], "nice": false}, "axis": {"orient": "left", "values": [0.01, 0.1], "labelExpr": "datum.value == 0.1 ? '10⁻¹' : '10⁻²'", "labelPadding": 5.5, "labelFontSize": 21, "title": "Tan δ", "titleFontSize": 18, "titlePadding": 11}},
           "color": {"field": "sample", "type": "nominal", "scale": {"domain": ["IEC1.50 mequiv. g⁻¹", "IEC1.63 mequiv. g⁻¹", "IEC2.00 mequiv. g⁻¹", "IEC 2.25 mequiv. g⁻¹", "IEC 2.44 mequiv. g⁻¹", "BAF-QAF IEC1.50 mequiv. g⁻¹"], "range": ["#000000", "#ff0000", "#22ee22", "#0000ff", "#4020ff", "#3d1a0f"]},
             "legend": {"orient": "none", "legendX": 8, "legendY": -97, "columns": 2, "direction": "horizontal", "title": null, "symbolType": "stroke", "symbolSize": 729, "symbolStrokeWidth": 2, "labelFontSize": 16, "labelColor": "black", "labelLimit": 400, "labelOffset": 6, "columnPadding": 2, "rowPadding": -8, "padding": 0}}
         }},
        {"mark": {"type": "point", "opacity": 0},
         "encoding": {
           "x": {"field": "x", "type": "quantitative", "scale": {"domain": [0, 91], "nice": false, "zero": false}, "axis": {"orient": "bottom", "values": [0, 20, 40, 60, 80], "grid": true, "gridDash": [8, 1000], "labels": false, "title": null}},
           "y": {"field": "value", "type": "quantitative", "scale": {"type": "log", "domain": [0.0011, 0.98], "nice": false}, "axis": {"orient": "left", "values": [0.01, 0.1], "grid": true, "gridDash": [10, 1000], "labels": false, "title": null}}
         }},
        {"mark": {"type": "point", "opacity": 0},
         "encoding": {
           "x": {"field": "x", "type": "quantitative", "scale": {"domain": [0, 91], "nice": false, "zero": false}, "axis": {"orient": "bottom", "values": [10, 30, 50, 70, 90], "grid": true, "gridDash": [4, 1000], "labels": false, "title": null}},
           "y": {"field": "value", "type": "quantitative", "scale": {"type": "log", "domain": [0.0011, 0.98], "nice": false}, "axis": {"orient": "left", "values": [0.002, 0.003, 0.004, 0.005, 0.006, 0.007, 0.008, 0.009, 0.02, 0.03, 0.04, 0.05, 0.06, 0.07, 0.08, 0.09, 0.2, 0.3, 0.4, 0.5, 0.6, 0.7, 0.8, 0.9], "grid": true, "gridDash": [5, 1000], "labels": false, "title": null}}
         }},
        {"mark": {"type": "point", "opacity": 0},
         "encoding": {
           "x": {"field": "x", "type": "quantitative", "scale": {"domain": [0, 91], "nice": false, "zero": false}, "axis": {"orient": "top", "values": [0, 20, 40, 60, 80], "grid": true, "gridDash": [8, 1000], "labels": false, "title": null}},
           "y": {"field": "value", "type": "quantitative", "scale": {"type": "log", "domain": [0.0011, 0.98], "nice": false}, "axis": {"orient": "right", "values": [0.01, 0.1], "grid": true, "gridDash": [10, 1000], "labels": false, "title": null}}
         }},
        {"mark": {"type": "point", "opacity": 0},
         "encoding": {
           "x": {"field": "x", "type": "quantitative", "scale": {"domain": [0, 91], "nice": false, "zero": false}, "axis": {"orient": "top", "values": [10, 30, 50, 70, 90], "grid": true, "gridDash": [4, 1000], "labels": false, "title": null}},
           "y": {"field": "value", "type": "quantitative", "scale": {"type": "log", "domain": [0.0011, 0.98], "nice": false}, "axis": {"orient": "right", "values": [0.002, 0.003, 0.004, 0.005, 0.006, 0.007, 0.008, 0.009, 0.02, 0.03, 0.04, 0.05, 0.06, 0.07, 0.08, 0.09, 0.2, 0.3, 0.4, 0.5, 0.6, 0.7, 0.8, 0.9], "grid": true, "gridDash": [5, 1000], "labels": false, "title": null}}
         }}
      ]
    },
    {
      "width": 281.3, "height": 183.5,
      "data": {"name": "tT"},
      "resolve": {"axis": {"x": "independent", "y": "independent"}},
      "layer": [
        {"mark": {"type": "line", "strokeWidth": 1.7, "clip": true},
         "encoding": {
           "x": {"field": "x", "type": "quantitative", "scale": {"domain": [26, 95], "nice": false, "zero": false}, "axis": {"orient": "bottom", "values": [30, 40, 50, 60, 70, 80, 90], "labelPadding": 7, "labelFontSize": 20, "title": "Temperature (°C)", "titleFontSize": 19.5, "titlePadding": 14}},
           "y": {"field": "value", "type": "quantitative", "scale": {"type": "log", "domain": [0.0011, 0.98], "nice": false}, "axis": {"orient": "left", "labels": false, "title": null}},
           "color": {"field": "sample", "type": "nominal", "scale": {"domain": ["IEC1.50 mequiv. g⁻¹", "IEC1.63 mequiv. g⁻¹", "IEC2.00 mequiv. g⁻¹", "IEC 2.25 mequiv. g⁻¹", "IEC 2.44 mequiv. g⁻¹", "BAF-QAF IEC1.50 mequiv. g⁻¹"], "range": ["#000000", "#ff0000", "#22ee22", "#0000ff", "#4020ff", "#3d1a0f"]},
             "legend": {"orient": "none", "legendX": 8, "legendY": -97, "columns": 2, "direction": "horizontal", "title": null, "symbolType": "stroke", "symbolSize": 729, "symbolStrokeWidth": 2, "labelFontSize": 16, "labelColor": "black", "labelLimit": 400, "labelOffset": 6, "columnPadding": 2, "rowPadding": -8, "padding": 0}}
         }},
        {"mark": {"type": "point", "opacity": 0},
         "encoding": {
           "x": {"field": "x", "type": "quantitative", "scale": {"domain": [26, 95], "nice": false, "zero": false}, "axis": {"orient": "bottom", "values": [30, 40, 50, 60, 70, 80, 90], "grid": true, "gridDash": [8, 1000], "labels": false, "title": null}},
           "y": {"field": "value", "type": "quantitative", "scale": {"type": "log", "domain": [0.0011, 0.98], "nice": false}, "axis": {"orient": "left", "values": [0.01, 0.1], "grid": true, "gridDash": [10, 1000], "labels": false, "title": null}}
         }},
        {"mark": {"type": "point", "opacity": 0},
         "encoding": {
           "x": {"field": "x", "type": "quantitative", "scale": {"domain": [26, 95], "nice": false, "zero": false}, "axis": {"orient": "bottom", "values": [35, 45, 55, 65, 75, 85], "grid": true, "gridDash": [4, 1000], "labels": false, "title": null}},
           "y": {"field": "value", "type": "quantitative", "scale": {"type": "log", "domain": [0.0011, 0.98], "nice": false}, "axis": {"orient": "left", "values": [0.002, 0.003, 0.004, 0.005, 0.006, 0.007, 0.008, 0.009, 0.02, 0.03, 0.04, 0.05, 0.06, 0.07, 0.08, 0.09, 0.2, 0.3, 0.4, 0.5, 0.6, 0.7, 0.8, 0.9], "grid": true, "gridDash": [5, 1000], "labels": false, "title": null}}
         }},
        {"mark": {"type": "point", "opacity": 0},
         "encoding": {
           "x": {"field": "x", "type": "quantitative", "scale": {"domain": [26, 95], "nice": false, "zero": false}, "axis": {"orient": "top", "values": [30, 40, 50, 60, 70, 80, 90], "grid": true, "gridDash": [8, 1000], "labels": false, "title": null}},
           "y": {"field": "value", "type": "quantitative", "scale": {"type": "log", "domain": [0.0011, 0.98], "nice": false}, "axis": {"orient": "right", "values": [0.01, 0.1], "grid": true, "gridDash": [10, 1000], "labels": false, "title": null}}
         }},
        {"mark": {"type": "point", "opacity": 0},
         "encoding": {
           "x": {"field": "x", "type": "quantitative", "scale": {"domain": [26, 95], "nice": false, "zero": false}, "axis": {"orient": "top", "values": [35, 45, 55, 65, 75, 85], "grid": true, "gridDash": [4, 1000], "labels": false, "title": null}},
           "y": {"field": "value", "type": "quantitative", "scale": {"type": "log", "domain": [0.0011, 0.98], "nice": false}, "axis": {"orient": "right", "values": [0.002, 0.003, 0.004, 0.005, 0.006, 0.007, 0.008, 0.009, 0.02, 0.03, 0.04, 0.05, 0.06, 0.07, 0.08, 0.09, 0.2, 0.3, 0.4, 0.5, 0.6, 0.7, 0.8, 0.9], "grid": true, "gridDash": [5, 1000], "labels": false, "title": null}}
         }}
      ]
    }
  ]
}
